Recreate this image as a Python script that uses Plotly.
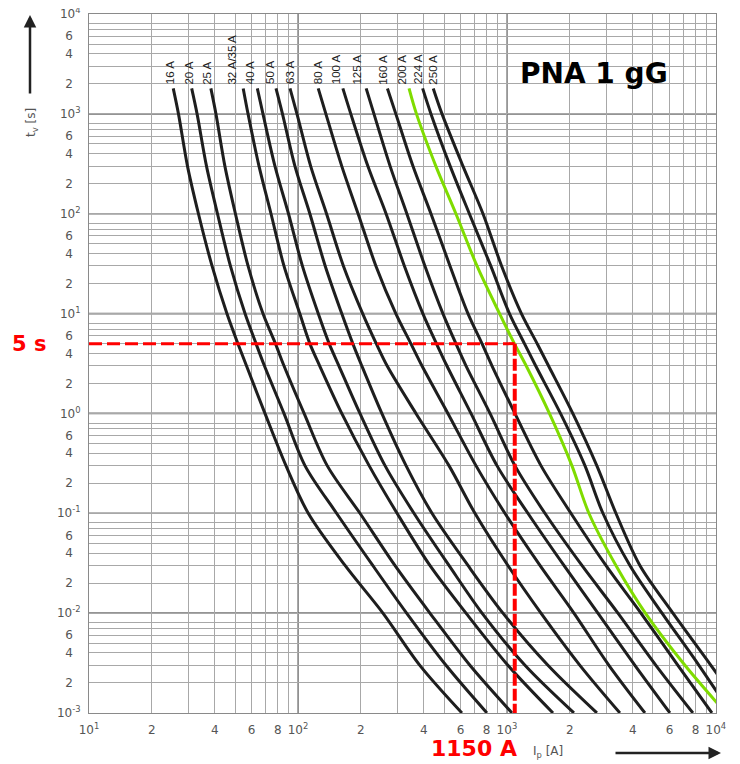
import math
import plotly.graph_objects as go

# ---------------- data ----------------
t_s = [1800, 1000, 300, 100, 30, 10, 5, 3, 1, 0.3, 0.1, 0.03, 0.01, 0.003, 0.001]

ratings = ["16 A", "20 A", "25 A", "32 A/35 A", "40 A", "50 A", "63 A",
           "80 A", "100 A", "125 A", "160 A", "200 A", "224 A", "250 A"]

i_16A = [25.3, 26.8, 29.6, 33.4, 38.8, 45.7, 51.6, 56.7, 69.5, 87.6, 112, 168, 255, 383, 609]
i_20A = [31.0, 32.9, 36.5, 41.2, 47.5, 55.8, 63.0, 69.1, 85.7, 108, 153, 228, 331, 511, 802]
i_25A = [38.3, 40.5, 44.7, 50.2, 57.7, 68.0, 78.0, 85.7, 107, 138, 198, 291, 428, 665, 1057]
i_32A = [54.7, 57.7, 65.1, 74.3, 85.7, 102, 114, 127, 162, 219, 298, 428, 637, 1011, 1661]
i_40A = [63.9, 68.0, 77.6, 90.1, 105, 125, 141, 157, 198, 261, 359, 528, 760, 1220, 2092]
i_50A = [78.5, 84.3, 96.7, 114, 135, 162, 183, 202, 252, 329, 438, 651, 957, 1571, 2695]
i_63A = [91.6, 98.9, 115, 137, 165, 204, 237, 267, 367, 528, 703, 1011, 1455, 2235, 3473]
i_80A = [125, 136, 162, 194, 236, 294, 347, 392, 522, 711, 978, 1439, 2092, 3076, 4575]
i_100A = [164, 179, 216, 264, 323, 396, 460, 516, 673, 896, 1260, 1874, 2725, 4097, 6025]
i_125A = [212, 231, 276, 332, 405, 494, 570, 637, 830, 1092, 1520, 2285, 3398, 5163, 7762]
i_160A = [268, 294, 355, 433, 534, 651, 760, 848, 1092, 1455, 2024, 2976, 4377, 6579, 9570]
i_200A = [340, 369, 457, 570, 719, 922, 1086, 1236, 1597, 2046, 2468, 3324, 4598, 7108, 11160]
i_224A = [395, 433, 535, 661, 837, 1028, 1213, 1372, 1804, 2362, 2880, 3877, 5522, 8295, 11800]
i_250A = [444, 489, 616, 768, 943, 1173, 1395, 1581, 2066, 2692, 3323, 4329, 6227, 9465, 13770]

highlight = "200 A"
mark_current = 1090   # vertical red line position
mark_time = 5         # horizontal red line position
mark_current_label = "1150 A"
mark_time_label = "5 s"

x_tickvals = [10, 20, 40, 60, 80, 100, 200, 400, 600, 800, 1000, 2000, 4000, 6000, 8000, 10000]
x_ticktext = ["10<sup>1</sup>", "2", "4", "6", "8", "10<sup>2</sup>", "2", "4", "6", "8",
              "10<sup>3</sup>", "2", "4", "6", "8", "10<sup>4</sup>"]
x_minor = [30, 50, 70, 90, 300, 500, 700, 900, 3000, 5000, 7000, 9000]

y_decades = [-3, -2, -1, 0, 1, 2, 3, 4]
y_tickvals, y_ticktext, y_minor = [], [], []
for e in y_decades:
    y_tickvals.append(10.0 ** e)
    y_ticktext.append("10<sup>%d</sup>" % e)
    if e < 4:
        for d in (2, 4, 6):
            y_tickvals.append(d * 10.0 ** e)
            y_ticktext.append(str(d) + "\u00a0\u00a0")
        for d in (3, 5, 7, 8):
            y_minor.append(d * 10.0 ** e)

curves = [i_16A, i_20A, i_25A, i_32A, i_40A, i_50A, i_63A,
          i_80A, i_100A, i_125A, i_160A, i_200A, i_224A, i_250A]

# label horizontal offsets (pixels) relative to curve start
label_dx = [-3, -3, -4, -11, -7, -6, 0, 0, -6, -9, -4, -7, -4, 0]

# ---------------- figure ----------------
# page body has an 8px margin; the plot area should land at x 89..716, y 14..713
OFF = 8
W, H = 732, 756
PL, PR, PT, PB = 89, 716, 14, 713          # plot area in window pixels
L, T = PL - OFF, PT - OFF
R = W - (PR - OFF)
B = H - (PB - OFF)
PW, PH = PR - PL, PB - PT


def px2paper_x(px):
    return (px - PL) / PW


def px2paper_y(py):
    return (PB - py) / PH


fig = go.Figure()

for name, cur in zip(ratings, curves):
    is_hl = name == highlight
    fig.add_trace(go.Scatter(
        x=cur, y=t_s, mode="lines", name=name,
        line=dict(color="#7fdc00" if is_hl else "#1e1e1e", width=3,
                  shape="spline", smoothing=0.9),
    ))

# red reading lines
fig.add_trace(go.Scatter(
    x=[10, mark_current], y=[mark_time, mark_time], mode="lines",
    line=dict(color="#ff0000", width=3, dash="13px,5px"), name="t"))
fig.add_trace(go.Scatter(
    x=[mark_current, mark_current], y=[mark_time, 0.001], mode="lines",
    line=dict(color="#ff0000", width=4, dash="12px,3px"), name="I"))

grid_c = "#a8a8a8"
tick_font = dict(family="DejaVu Sans", size=12, color="#555")
fig.update_xaxes(
    type="log", range=[1, 4.0005], tickmode="array", tickvals=x_tickvals, ticktext=x_ticktext,
    showgrid=True, gridcolor=grid_c, gridwidth=1, ticks="", automargin=False,
    minor=dict(tickmode="array", tickvals=x_minor, showgrid=True, gridcolor=grid_c,
               gridwidth=1, ticks=""),
    showline=True, linecolor="#8a8a8a", linewidth=1, mirror=True, zeroline=False,
    tickfont=tick_font, ticklabelstandoff=6, ticklabeloverflow="allow",
)
fig.update_yaxes(
    type="log", range=[-3.0005, 4.0005], tickmode="array", tickvals=y_tickvals,
    ticktext=y_ticktext,
    showgrid=True, gridcolor=grid_c, gridwidth=1, ticks="", automargin=False,
    minor=dict(tickmode="array", tickvals=y_minor, showgrid=True, gridcolor=grid_c,
               gridwidth=1, ticks=""),
    showline=True, linecolor="#8a8a8a", linewidth=1, mirror=True, zeroline=False,
    tickfont=tick_font, ticklabelstandoff=5, ticklabeloverflow="allow",
)

shapes = []
for v in (100, 1000):
    shapes.append(dict(type="line", xref="x", yref="paper", x0=v, x1=v, y0=0, y1=1,
                       line=dict(color="#707070", width=1.6), layer="below"))
for e in (-2, -1, 0, 1, 2, 3):
    shapes.append(dict(type="line", xref="paper", yref="y", x0=0, x1=1,
                       y0=10.0 ** e, y1=10.0 ** e,
                       line=dict(color="#707070", width=1.6), layer="below"))

ann = []
# rating labels
for name, cur, dx in zip(ratings, curves, label_dx):
    ann.append(dict(x=math.log10(cur[0]), y=math.log10(t_s[0]), xref="x", yref="y",
                    text=name, showarrow=False, textangle=-90,
                    xanchor="center", yanchor="bottom", xshift=dx, yshift=2,
                    font=dict(family="Liberation Sans", size=11.5, color="#222")))

ann.append(dict(x=px2paper_x(594), y=px2paper_y(73), xref="paper", yref="paper",
                text="<b>PNA 1 gG</b>", showarrow=False, xanchor="center", yanchor="middle",
                font=dict(family="DejaVu Sans", size=28, color="#000")))

ann.append(dict(x=px2paper_x(29), y=math.log10(mark_time), xref="paper", yref="y",
                text="<b>%s</b>" % mark_time_label, showarrow=False,
                xanchor="center", yanchor="middle",
                font=dict(family="DejaVu Sans", size=21, color="#ff0000")))
ann.append(dict(x=math.log10(mark_current), y=px2paper_y(748), xref="x", yref="paper",
                text="<b>%s</b>" % mark_current_label, showarrow=False,
                xanchor="right", yanchor="middle", xshift=4,
                font=dict(family="DejaVu Sans", size=22, color="#ff0000")))

# axis titles and arrows
ann.append(dict(x=px2paper_x(32), y=px2paper_y(123), xref="paper", yref="paper",
                text="t<sub>v</sub> [s]", showarrow=False, textangle=-90,
                xanchor="center", yanchor="middle",
                font=dict(family="DejaVu Sans", size=12, color="#555")))
ann.append(dict(x=px2paper_x(30), y=px2paper_y(15), xref="paper", yref="paper",
                text="", showarrow=True, ax=0, ay=80, arrowhead=2, arrowsize=1,
                arrowwidth=2.5, arrowcolor="#222"))
ann.append(dict(x=px2paper_x(548), y=px2paper_y(752), xref="paper", yref="paper",
                text="I<sub>p</sub> [A]", showarrow=False, xanchor="center", yanchor="middle",
                font=dict(family="DejaVu Sans", size=12, color="#555")))
ann.append(dict(x=px2paper_x(721), y=px2paper_y(753), xref="paper", yref="paper",
                text="", showarrow=True, ax=-107, ay=0, arrowhead=2, arrowsize=1,
                arrowwidth=2.5, arrowcolor="#222"))

fig.update_layout(
    width=W, height=H, margin=dict(l=L, r=R, t=T, b=B),
    paper_bgcolor="white", plot_bgcolor="white", showlegend=False,
    shapes=shapes, annotations=ann,
    font=dict(family="DejaVu Sans", color="#555"),
)

fig.write_html("out.html")
